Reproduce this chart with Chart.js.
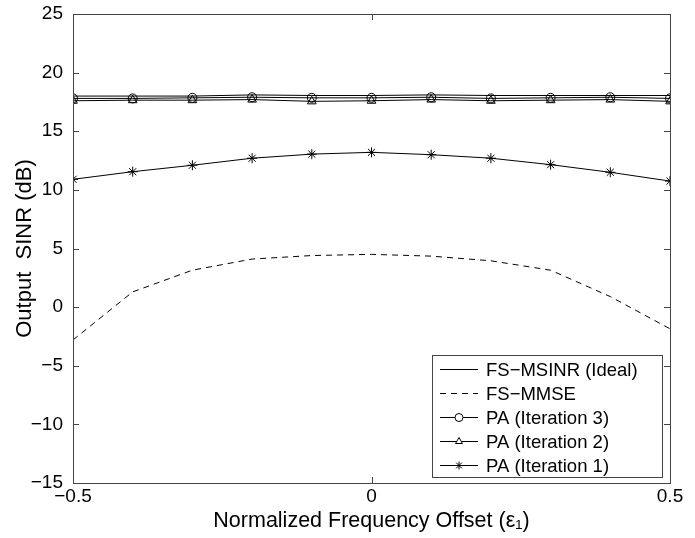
<!DOCTYPE html>
<html>
<head>
<meta charset="utf-8">
<script src="https://cdn.jsdelivr.net/npm/chart.js@4"></script>
<style>
  html, body { margin: 0; padding: 0; background: #fff; }
  #wrap { width: 695px; height: 538px; position: relative; }
</style>
</head>
<body>
<div id="wrap"><canvas id="sinrChart" width="695" height="538"></canvas></div>
<script>
// ================== DATA ==================
const offsets = [-0.5, -0.4, -0.3, -0.2, -0.1, 0, 0.1, 0.2, 0.3, 0.4, 0.5];
const msinrIdeal = [18.0, 18.0, 18.0, 18.1, 18.05, 18.05, 18.1, 18.05, 18.05, 18.05, 18.05];
const fsMmse = [-2.8, 1.3, 3.15, 4.1, 4.4, 4.5, 4.35, 3.95, 3.15, 0.9, -1.85];
const paIter3 = [17.8, 17.8, 17.85, 17.9, 17.85, 17.85, 17.9, 17.8, 17.85, 17.9, 17.8];
const paIter2 = [17.6, 17.65, 17.65, 17.7, 17.55, 17.6, 17.7, 17.6, 17.65, 17.7, 17.55];
const paIter1 = [10.9, 11.55, 12.1, 12.7, 13.05, 13.2, 13.0, 12.7, 12.15, 11.5, 10.75];
const yTicks = [-15, -10, -5, 0, 5, 10, 15, 20, 25];
const xTicks = [-0.5, 0, 0.5];
const seriesNames = ['FS-MSINR (Ideal)', 'FS-MMSE', 'PA (Iteration 3)', 'PA (Iteration 2)', 'PA (Iteration 1)'];

const FONT = '"Liberation Sans", Arial, Helvetica, sans-serif';
const minus = s => String(s).replace(/-/g, '\u2212');
const toPoints = ys => offsets.map((x, i) => ({ x, y: ys[i] }));

// ================== PLUGINS ==================
// MATLAB style box with inward ticks on all four sides
const boxTicks = {
    id: 'boxTicks',
    afterDatasetsDraw(chart) {
        const { ctx, chartArea: a, scales } = chart;
        ctx.save();
        ctx.strokeStyle = '#444';
        ctx.lineWidth = 1;
        ctx.strokeRect(a.left + 0.5, a.top + 0.5, a.right - a.left, a.bottom - a.top);
        const len = 6;
        ctx.beginPath();
        yTicks.forEach(v => {
            const y = Math.round(scales.y.getPixelForValue(v)) + 0.5;
            ctx.moveTo(a.left, y); ctx.lineTo(a.left + len, y);
            ctx.moveTo(a.right, y); ctx.lineTo(a.right - len, y);
        });
        xTicks.forEach(v => {
            const x = Math.round(scales.x.getPixelForValue(v)) + 0.5;
            ctx.moveTo(x, a.bottom); ctx.lineTo(x, a.bottom - len);
            ctx.moveTo(x, a.top); ctx.lineTo(x, a.top + len);
        });
        ctx.stroke();
        ctx.restore();
    }
};

// Legend box inside the axes, lower right
const insideLegend = {
    id: 'insideLegend',
    afterDraw(chart) {
        const { ctx, chartArea: a } = chart;
        const w = 230, rowH = 24;
        const h = chart.data.datasets.length * rowH + 2;
        const x0 = a.right - 8 - w, y0 = a.bottom - 6 - h;
        ctx.save();
        ctx.fillStyle = '#fff';
        ctx.fillRect(x0, y0, w, h);
        ctx.strokeStyle = '#444';
        ctx.lineWidth = 1;
        ctx.strokeRect(x0 + 0.5, y0 + 0.5, w, h);
        ctx.font = '18.5px ' + FONT;
        ctx.textBaseline = 'middle';
        chart.data.datasets.forEach((ds, i) => {
            const y = Math.round(y0 + 14 + i * rowH) + 0.5;
            ctx.strokeStyle = '#000';
            ctx.lineWidth = 1;
            ctx.setLineDash(ds.borderDash || []);
            ctx.beginPath();
            ctx.moveTo(x0 + 8, y); ctx.lineTo(x0 + 46, y);
            ctx.stroke();
            ctx.setLineDash([]);
            if (ds.pointRadius > 0) {
                ctx.fillStyle = '#fff';
                Chart.helpers.drawPoint(ctx, {
                    pointStyle: ds.pointStyle, radius: 4,
                    borderWidth: 1, rotation: 0
                }, x0 + 27, y);
            }
            ctx.fillStyle = '#000';
            ctx.fillText(minus(ds.label), x0 + 54, y + 1);
        });
        ctx.restore();
    }
};

// ================== CHART ==================
function makeDataset(label, ys, style) {
    return Object.assign({
        label,
        data: toPoints(ys),
        borderColor: '#000',
        backgroundColor: 'transparent',
        borderWidth: 1,
        pointRadius: 0,
        pointBorderColor: '#000',
        pointBackgroundColor: 'transparent',
        pointBorderWidth: 1,
        tension: 0
    }, style);
}

const datasets = [
    makeDataset(seriesNames[0], msinrIdeal, {}),
    makeDataset(seriesNames[1], fsMmse, { borderDash: [6, 5] }),
    makeDataset(seriesNames[2], paIter3, { pointStyle: 'circle', pointRadius: 4.5 }),
    makeDataset(seriesNames[3], paIter2, { pointStyle: 'triangle', pointRadius: 5 }),
    makeDataset(seriesNames[4], paIter1, { pointStyle: 'star', pointRadius: 5 })
];

new Chart(document.getElementById('sinrChart').getContext('2d'), {
    type: 'line',
    data: { datasets },
    options: {
        responsive: false,
        animation: false,
        layout: { padding: { top: 14, right: 25, left: 0, bottom: 0 } },
        plugins: { legend: { display: false }, tooltip: { enabled: false } },
        scales: {
            x: {
                type: 'linear', min: -0.5, max: 0.5,
                afterBuildTicks: s => { s.ticks = xTicks.map(v => ({ value: v })); },
                afterFit: s => { s.height = 55; s.paddingLeft = 0; s.paddingRight = 0; },
                border: { display: false },
                grid: { display: false, drawTicks: false, tickLength: 0 },
                ticks: { color: '#000', font: { family: FONT, size: 19 }, padding: 2, maxRotation: 0,
                         callback: v => minus(v) },
                title: { display: true, text: 'Normalized Frequency Offset (\u03b5\u2081)', color: '#000',
                         font: { family: FONT, size: 21.5 }, padding: { top: 1 } }
            },
            y: {
                min: -15, max: 25,
                afterBuildTicks: s => { s.ticks = yTicks.map(v => ({ value: v })); },
                afterFit: s => { s.width = 73; s.paddingTop = 0; s.paddingBottom = 0; },
                border: { display: false },
                grid: { display: false, drawTicks: false, tickLength: 0 },
                ticks: { color: '#000', font: { family: FONT, size: 19 }, padding: 10,
                         callback: v => minus(v) },
                title: { display: true, text: 'Output  SINR (dB)', color: '#000',
                         font: { family: FONT, size: 22 }, padding: { top: 12, bottom: 0 } }
            }
        }
    },
    plugins: [boxTicks, insideLegend]
});
</script>
</body>
</html>
